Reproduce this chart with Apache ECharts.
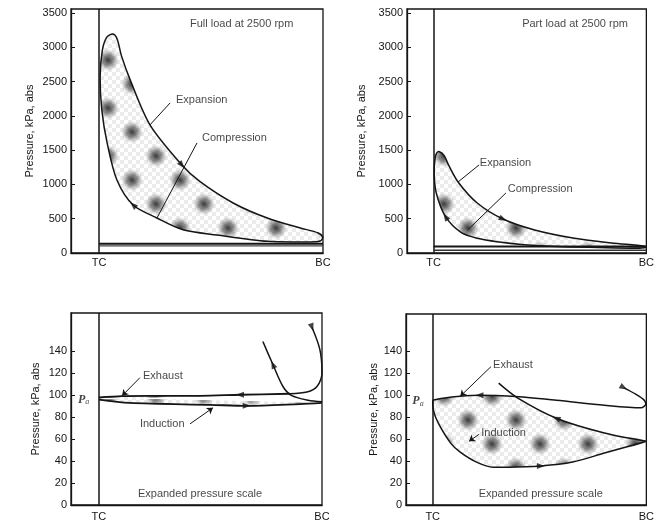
<!DOCTYPE html>
<html><head><meta charset="utf-8">
<script src="https://cdn.jsdelivr.net/npm/echarts@6/dist/echarts.min.js"></script>
<style>html,body{margin:0;padding:0;background:#fff}#c{width:657px;height:527px}</style>
</head><body><div id="c"></div>
<script>
// ---------- DATA (V in clearance-volume units: TC = 1, BC = 9; p in kPa abs) ----------
const xTickValues = [1, 9];
const xTickLabels = ['TC', 'BC'];
const yTicksHigh = [0, 500, 1000, 1500, 2000, 2500, 3000, 3500];
const yTicksLow = [0, 20, 40, 60, 80, 100, 120, 140];
const yName = 'Pressure, kPa, abs';

// Top-left: full load
const tlExpansion = [[1.50,3195],[1.65,3120],[1.80,2880],[2.11,2530],[2.82,1870],[3.96,1285],[4.61,1040],[5.79,730],[7.01,510],[8.19,365],[8.83,292],[8.99,230]];
const tlCompression = [[8.9,175],[8.5,162],[7.01,170],[5.22,263],[4.0,340],[3.07,511],[2.22,700],[1.64,1066],[1.29,1606],[1.10,2088],[1.04,2569],[1.12,2960],[1.28,3150],[1.50,3195]];
const tlExhaust = [[1.0,135],[9.0,135]];
const tlInduction = [[1.0,105],[9.0,105]];
const tlArrows = [[3.96,1285,-139],[2.22,700,47]];

// Top-right: part load
const trExpansion = [[1.22,1478],[1.40,1420],[1.56,1285],[1.92,1036],[2.64,730],[3.61,496],[4.80,336],[6.24,219],[7.68,146],[8.94,100]];
const trCompression = [[8.98,80],[8.6,70],[7.2,80],[5.63,95],[4.3,125],[3.47,160],[2.64,215],[2.03,300],[1.45,530],[1.10,876],[1.02,1168],[1.06,1390],[1.12,1460],[1.22,1478]];
const trExhaust = [[1.0,95],[9.0,95]];
const trInduction = [[1.0,40],[9.0,40]];
const trArrows = [[3.61,496,-114],[1.45,530,33]];

// Bottom-left: full load, expanded scale
const blBlowdown = [[8.64,162],[8.92,142],[9.0,121],[8.82,108],[8.46,103],[7.85,101.4]];
const blExhaust = [[7.85,101.4],[6.06,100.5],[4.62,99.5],[2.83,99.5],[1.83,99.3],[1.0,98.0]];
const blInduction = [[1.0,96],[2.1,93],[5.0,91.3],[6.3,90.4],[8.2,92],[9.0,93]];
const blCompression = [[9.0,94],[8.5,95.5],[7.9,100],[7.6,108],[7.24,128],[6.88,149]];
const blArrows = [[6.06,100.5,90],[6.3,90.4,-90],[7.24,128,24],[8.64,162,-161]];

// Bottom-right: part load, expanded scale
const brExhaust = [[8.15,107],[8.6,101],[8.9,96],[8.98,92],[8.8,88.6],[7.43,90.9],[5.63,95.5],[3.97,99.1],[2.75,100],[2.03,99.1],[1.38,97.3],[1.0,95.5]];
const brCompression = [[9.0,58],[7.43,65.5],[5.63,79],[4.19,97.3],[3.47,111]];
const brInduction = [[1.0,95.5],[1.03,86],[1.21,74.5],[1.67,56.4],[2.03,48.2],[2.64,39.1],[3.26,34.5],[3.83,34.5],[5.05,35.5],[6.24,39.1],[7.43,47.3],[9.0,58]];
const brArrows = [[2.75,100,90],[5.05,35.5,-90],[5.63,79,69],[8.15,107,-120]];

// Annotations: [grid, V, p, text]
const annotations = [
  [0, 4.25, 3343, 'Full load at 2500 rpm'],
  [0, 3.75, 2234, 'Expansion'],
  [0, 4.68, 1679, 'Compression'],
  [1, 4.33, 3343, 'Part load at 2500 rpm'],
  [1, 2.74, 1314, 'Expansion'],
  [1, 3.79, 934, 'Compression'],
  [2, 2.58, 118, 'Exhaust'],
  [2, 2.47, 74, 'Induction'],
  [2, 2.4, 10, 'Expanded pressure scale'],
  [3, 3.26, 128, 'Exhaust'],
  [3, 2.82, 65.5, 'Induction'],
  [3, 2.72, 10, 'Expanded pressure scale']
];
// Leaders: [grid, V1, p1, V2, p2, arrow]
const leaders = [
  [0, 3.54, 2190, 2.82, 1869, false],
  [0, 4.5, 1606, 3.07, 511, false],
  [1, 2.71, 1285, 1.92, 1036, false],
  [1, 3.72, 876, 2.28, 336, false],
  [2, 2.47, 116, 1.83, 99.5, true],
  [2, 4.27, 74, 5.09, 88.6, true],
  [3, 3.18, 126, 2.03, 99, true],
  [3, 2.74, 64.5, 2.36, 58, true]
];
// Ambient pressure label positions: [grid, V, p]
const paLabels = [[2, 0.45, 96], [3, 0.45, 94.5]];

// ---------- STYLE ----------
const INK = '#151515';
const FONT = 'Liberation Sans';
function makePattern() {
  const s = 48, c = document.createElement('canvas');
  c.width = c.height = s;
  const g = c.getContext('2d');
  g.fillStyle = '#ffffff'; g.fillRect(0, 0, s, s);
  for (let i = 0; i < s; i += 4) for (let j = 0; j < s; j += 4) {
    if (((i + j) / 4) % 2 === 0) { g.fillStyle = 'rgba(0,0,0,0.08)'; g.fillRect(i, j, 4, 4); }
  }
  const centers = [[12, 12], [36, 36]];
  for (const [cx, cy] of centers) for (let dx = -s; dx <= s; dx += s) for (let dy = -s; dy <= s; dy += s) {
    const x = cx + dx, y = cy + dy;
    const gr = g.createRadialGradient(x, y, 0, x, y, 11);
    gr.addColorStop(0, 'rgba(35,35,35,0.9)');
    gr.addColorStop(0.5, 'rgba(60,60,60,0.55)');
    gr.addColorStop(1, 'rgba(120,120,120,0)');
    g.fillStyle = gr; g.fillRect(x - 12, y - 12, 24, 24);
  }
  return c;
}
const pattern = { image: makePattern(), repeat: 'repeat' };

const grids = [
  { left: 71, top: 9, width: 252, height: 244 },
  { left: 407, top: 9, width: 249, height: 244 },
  { left: 71, top: 313, width: 251, height: 192 },
  { left: 406, top: 314, width: 250, height: 191 }
];
const yMax = [3560, 3560, 175, 174];
const nameGaps = [36, 40, 30, 26];

const xAxes = grids.map((g, i) => ({
  type: 'value', gridIndex: i, min: 0, max: 9,
  axisLine: { show: true, lineStyle: { color: INK, width: 1.3 } },
  axisTick: { show: false },
  splitLine: { show: false },
  axisLabel: {
    customValues: xTickValues, color: INK, fontFamily: FONT, fontSize: 11,
    margin: i < 2 ? 4 : 6,
    formatter: v => xTickLabels[xTickValues.indexOf(v)] || ''
  }
}));
const yAxes = grids.map((g, i) => {
  const ticks = i < 2 ? yTicksHigh : yTicksLow;
  return {
    type: 'value', gridIndex: i, min: 0, max: yMax[i],
    name: yName, nameLocation: 'middle', nameGap: nameGaps[i], nameRotate: 90,
    nameTextStyle: { color: INK, fontFamily: FONT, fontSize: 11 },
    axisLine: { show: true, lineStyle: { color: INK, width: 1.3 } },
    axisTick: { show: true, inside: true, length: 4, customValues: ticks, lineStyle: { color: INK } },
    splitLine: { show: false },
    axisLabel: { customValues: ticks, color: INK, fontFamily: FONT, fontSize: 11, margin: 4, formatter: v => String(v) }
  };
});

function line(gi, pts, extra) {
  return Object.assign({
    type: 'line', xAxisIndex: gi, yAxisIndex: gi, data: pts, smooth: 0.3,
    showSymbol: false, silent: true, z: 5,
    lineStyle: { color: INK, width: 1.5 }
  }, extra || {});
}
function poly(gi, pts, stroke) {
  return {
    type: 'custom', xAxisIndex: gi, yAxisIndex: gi, coordinateSystem: 'cartesian2d',
    data: [[0, 0]], silent: true, z: stroke ? 4 : 3, clip: false,
    renderItem: (params, api) => ({
      type: 'polygon',
      shape: { points: pts.map(p => api.coord(p)), smooth: 0.3 },
      style: { fill: pattern, stroke: stroke ? INK : null, lineWidth: 1.5 }
    })
  };
}
function arrows(gi, arr) {
  return {
    type: 'scatter', xAxisIndex: gi, yAxisIndex: gi, data: arr, silent: true, z: 6,
    symbol: 'triangle', symbolSize: [6, 8], symbolRotate: v => v[2],
    itemStyle: { color: INK }
  };
}
function tcLine(gi) {
  return {
    type: 'line', xAxisIndex: gi, yAxisIndex: gi, data: [], silent: true,
    markLine: {
      silent: true, symbol: 'none', animation: false, label: { show: false },
      lineStyle: { color: INK, width: 1.5, type: 'solid' },
      data: [{ xAxis: xTickValues[0] }]
    }
  };
}

const series = [];
// shading
series.push(poly(0, tlExpansion.concat(tlCompression.slice(0, -1)), true));
series.push(poly(1, trExpansion.concat(trCompression.slice(0, -1)), true));
series.push(poly(2, blExhaust.concat(blInduction.slice().reverse())));
const brShade = brExhaust.filter(p => p[0] <= 4).reverse()
  .concat(brCompression.filter(p => p[0] >= 4.19).reverse())
  .concat(brInduction.slice(1, -1).reverse());
series.push(poly(3, brShade));
// TC lines
for (let i = 0; i < 4; i++) series.push(tcLine(i));
// curves
series.push(line(0, tlExhaust, { lineStyle: { color: INK, width: 2.2 }, smooth: false }));
series.push(line(0, tlInduction, { lineStyle: { color: '#444', width: 1.2 }, smooth: false }));
series.push(line(1, trExhaust, { lineStyle: { color: INK, width: 2 }, smooth: false }));
series.push(line(1, trInduction, { lineStyle: { color: '#333', width: 1.5 }, smooth: false }));
series.push(line(2, blBlowdown));
series.push(line(2, blExhaust, { lineStyle: { color: INK, width: 1.8 } }));
series.push(line(2, blInduction, { lineStyle: { color: INK, width: 1.8 } }));
series.push(line(2, blCompression));
series.push(line(3, brExhaust));
series.push(line(3, brCompression));
series.push(line(3, brInduction));
// arrows
series.push(arrows(0, tlArrows), arrows(1, trArrows), arrows(2, blArrows), arrows(3, brArrows));
// leaders
for (let i = 0; i < 4; i++) {
  const ls = leaders.filter(l => l[0] === i);
  series.push({
    type: 'lines', coordinateSystem: 'cartesian2d', xAxisIndex: i, yAxisIndex: i, silent: true, z: 7,
    data: ls.map(l => ({ coords: [[l[1], l[2]], [l[3], l[4]]], symbol: l[5] ? ['none', 'arrow'] : ['none', 'none'] })),
    symbolSize: 6,
    lineStyle: { color: INK, width: 1, opacity: 1 }
  });
}
// annotations
for (let i = 0; i < 4; i++) {
  const as = annotations.filter(a => a[0] === i);
  series.push({
    type: 'scatter', xAxisIndex: i, yAxisIndex: i, silent: true, z: 8, symbolSize: 0,
    data: as.map(a => ({ value: [a[1], a[2]], name: a[3] })),
    label: {
      show: true, position: 'right', distance: 0, formatter: p => p.name,
      color: INK, fontFamily: FONT, fontSize: 11
    }
  });
}
// ambient pressure labels
for (const pl of paLabels) {
  series.push({
    type: 'scatter', xAxisIndex: pl[0], yAxisIndex: pl[0], silent: true, z: 8, symbolSize: 0,
    data: [[pl[1], pl[2]]],
    label: {
      show: true, position: 'inside', formatter: '{p|P}{s|a}',
      rich: {
        p: { fontFamily: 'Liberation Serif', fontStyle: 'italic', fontWeight: 'bold', fontSize: 12, color: INK },
        s: { fontFamily: 'Liberation Serif', fontStyle: 'italic', fontSize: 8, color: INK, padding: [5, 0, 0, 0] }
      }
    }
  });
}

const chart = echarts.init(document.getElementById('c'), null, { renderer: 'canvas' });
chart.setOption({
  animation: false,
  backgroundColor: '#ffffff',
  grid: grids.map(g => Object.assign({ show: true, borderColor: INK, borderWidth: 1.3, backgroundColor: 'transparent' }, g)),
  xAxis: xAxes,
  yAxis: yAxes,
  series: series
});
</script></body></html>
